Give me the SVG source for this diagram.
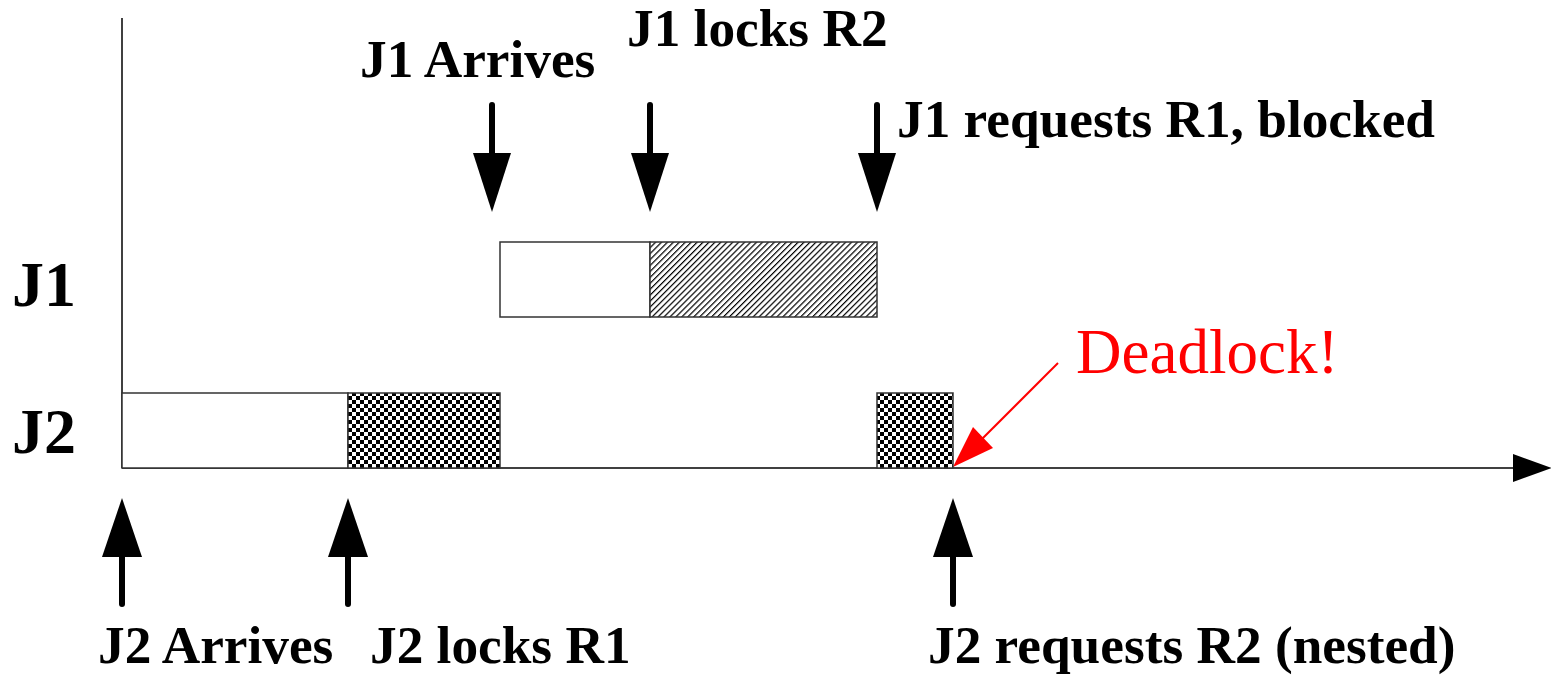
<svg xmlns="http://www.w3.org/2000/svg" width="1551" height="676" viewBox="0 0 1551 676">
<style>
.lbl{font-family:"Liberation Serif","Times New Roman",serif;font-weight:bold;font-size:53.3px;fill:#000}
.big{font-family:"Liberation Serif","Times New Roman",serif;font-weight:bold;font-size:64px;fill:#000}
.red{font-family:"Liberation Serif","Times New Roman",serif;font-size:63px;fill:#ff0000}
.box{stroke:#333;stroke-width:1.5}
.shaft{stroke:#000;stroke-width:6;stroke-linecap:round}
.axis{stroke:#000;stroke-width:1.5;fill:none}
</style>
<defs>
<pattern id="hatch" width="4.2" height="4.2" patternUnits="userSpaceOnUse" patternTransform="rotate(45)">
<rect width="4.2" height="4.2" fill="#fff"/>
<line x1="0" y1="0" x2="0" y2="4.2" stroke="#000" stroke-width="2.4"/>
</pattern>
<pattern id="checker" width="8" height="8" patternUnits="userSpaceOnUse">
<rect width="8" height="8" fill="#fff"/>
<rect x="0" y="0" width="4" height="4" fill="#000"/>
<rect x="4" y="4" width="4" height="4" fill="#000"/>
</pattern>
</defs>
<rect width="1551" height="676" fill="#fff"/>

<g id="connectors">
<line class="axis" x1="122" y1="18" x2="122" y2="468"/>
<line class="axis" x1="122" y1="468" x2="1515" y2="468"/>
<polygon points="1513,454 1513,482 1552,468" fill="#000"/>
<line class="shaft" x1="492" y1="105" x2="492" y2="156"/>
<polygon points="473,153 511,153 492,212" fill="#000"/>
<line class="shaft" x1="650" y1="105" x2="650" y2="156"/>
<polygon points="631,153 669,153 650,212" fill="#000"/>
<line class="shaft" x1="877" y1="105" x2="877" y2="156"/>
<polygon points="858,153 896,153 877,212" fill="#000"/>
<line class="shaft" x1="122" y1="554" x2="122" y2="604"/>
<polygon points="102,557 142,557 122,498" fill="#000"/>
<line class="shaft" x1="348" y1="554" x2="348" y2="604"/>
<polygon points="328,557 368,557 348,498" fill="#000"/>
<line class="shaft" x1="953" y1="554" x2="953" y2="604"/>
<polygon points="933,557 973,557 953,498" fill="#000"/>
<line x1="1058" y1="363" x2="982" y2="439" stroke="#ff0000" stroke-width="2"/>
<polygon points="953,467 973,427 993,448" fill="#ff0000"/>
</g>

<g id="j1-bar">
<rect class="box" x="500" y="242" width="150" height="75" fill="#fff"/>
<rect class="box" x="650" y="242" width="227" height="75" fill="url(#hatch)"/>
</g>
<g id="j2-bar">
<rect class="box" x="122" y="393" width="226" height="75" fill="#fff"/>
<rect class="box" x="348" y="393" width="152" height="75" fill="url(#checker)"/>
<rect class="box" x="877" y="393" width="76" height="75" fill="url(#checker)"/>
</g>

<g id="labels">
<text class="big" x="12" y="306">J1</text>
<text class="big" x="12" y="453">J2</text>
<text class="lbl" x="360" y="77">J1 Arrives</text>
<text class="lbl" x="627" y="46">J1 locks R2</text>
<text class="lbl" x="897" y="137">J1 requests R1, blocked</text>
<text class="red" x="1076" y="373">Deadlock!</text>
<text class="lbl" x="98" y="663">J2 Arrives</text>
<text class="lbl" x="370" y="663">J2 locks R1</text>
<text class="lbl" x="928" y="663">J2 requests R2 (nested)</text>
</g>
</svg>
